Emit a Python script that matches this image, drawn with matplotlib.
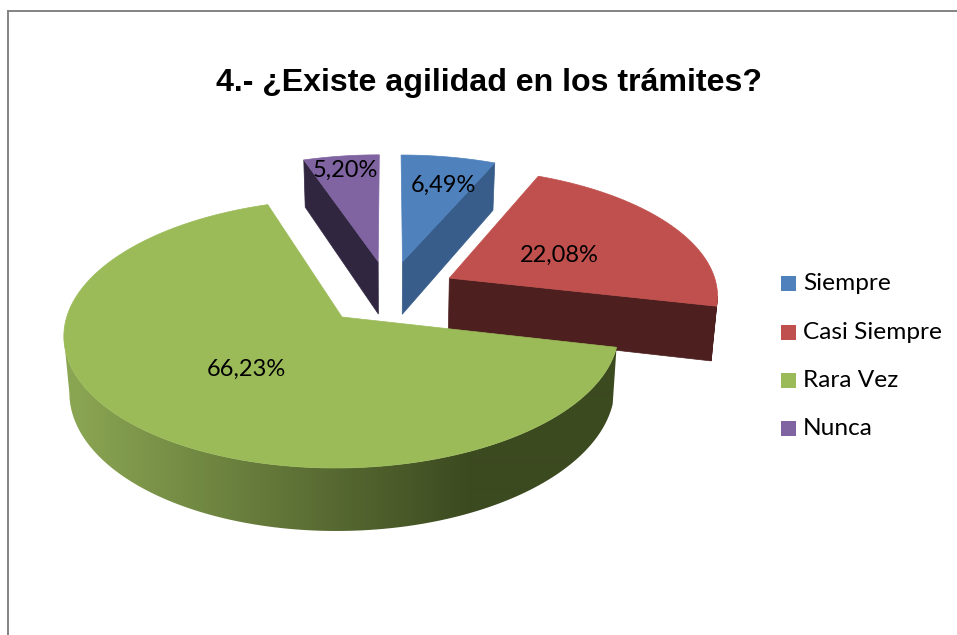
import numpy as np
import matplotlib
matplotlib.use("Agg")
import matplotlib.pyplot as plt
from matplotlib.colors import LinearSegmentedColormap
from matplotlib.patches import Polygon, Rectangle

# Chart data
title = "4.- ¿Existe agilidad en los trámites?"
categories = ["Siempre", "Casi Siempre", "Rara Vez", "Nunca"]
values = [6.49, 22.08, 66.23, 5.20]

# Colours
top_colors = ["#4f81bd", "#c0504d", "#9bbb59", "#8064a2"]
wall_colors = ["#385d8a", "#4d1f1e", None, "#302640"]
green_light = "#8ba653"
green_dark = "#3c4a20"

# Pie geometry, in pixels of the picture
cx, cy = 389, 292.5
radius_x, radius_y = 269, 126.5
persp = -0.12
explode = 0.255
depth = 54
bottom_shrink = 0.983

label_pos = [(443, 185), (559, 255), (246, 369), (345, 170)]

fig = plt.figure(figsize=(9.57, 6.35), dpi=100)
ax = fig.add_axes([0, 0, 1, 1])
ax.axis("off")


def project(px, py, low=False):
    w = 1 + persp * py
    x = radius_x * px / w
    y = radius_y * py / w
    if low:
        x = x * bottom_shrink
        y = y + depth / w
    return cx + x, cy + y


# Slice angles, clockwise from the top
edges = np.cumsum([0] + values) / sum(values) * 2 * np.pi
slices = []
for i in range(len(values)):
    mid = (edges[i] + edges[i + 1]) / 2
    ox = explode * np.sin(mid)
    oy = -explode * np.cos(mid)
    slices.append((oy, i, ox))

green_map = LinearSegmentedColormap.from_list("green_rim", [green_light, green_dark])
fade = np.clip((np.arange(957) - 70) / 400, 0, 1).reshape(1, -1)

# Back slices first
z = 2
for oy, i, ox in sorted(slices):
    t1, t2 = edges[i], edges[i + 1]
    theta = np.linspace(t1, t2, 300)
    px = ox + np.sin(theta)
    py = oy - np.cos(theta)
    top_x, top_y = project(px, py)
    low_x, low_y = project(px, py, low=True)
    apex_top = project(ox, oy)
    apex_low = project(ox, oy, low=True)

    # cut faces that look at the viewer
    wall = wall_colors[i] if wall_colors[i] else green_dark
    if np.sin(t1) < -1e-6:
        ax.add_patch(Polygon([apex_top, (top_x[0], top_y[0]), (low_x[0], low_y[0]), apex_low],
                             fc=wall, ec=wall, lw=0.5, zorder=z))
    if np.sin(t2) > 1e-6:
        ax.add_patch(Polygon([apex_top, (top_x[-1], top_y[-1]), (low_x[-1], low_y[-1]), apex_low],
                             fc=wall, ec=wall, lw=0.5, zorder=z))

    # outer rim runs between the left and right silhouette points
    idx = np.arange(len(theta))
    first = np.argmax(top_x)
    last = np.argmin(top_x) if t2 > np.pi else len(theta) - 1
    front = (np.cos(theta) <= 0.2) & (idx >= first) & (idx <= last)
    if front.any():
        rim = list(zip(top_x[front], top_y[front])) + list(zip(low_x[front][::-1], low_y[front][::-1]))
        if wall_colors[i]:
            ax.add_patch(Polygon(rim, fc=wall, ec=wall, lw=0.5, zorder=z))
        else:
            # the green one fades from left to right
            rim_patch = Polygon(rim, fc="none", ec="none", transform=ax.transData)
            ax.add_patch(rim_patch)
            img = ax.imshow(fade, cmap=green_map, vmin=0, vmax=1, extent=(0, 957, 635, 0),
                            aspect="auto", interpolation="bilinear", zorder=z)
            img.set_clip_path(rim_patch)

    # top face
    pts = [apex_top] + list(zip(top_x, top_y))
    ax.add_patch(Polygon(pts, fc=top_colors[i], ec=top_colors[i], lw=0.5, zorder=z + 1))
    z += 2

# Percent labels
for i, v in enumerate(values):
    ax.text(label_pos[i][0], label_pos[i][1], f"{v:.2f}".replace(".", ",") + "%",
            family="Lato", fontsize=17, color="black", ha="center", va="center", zorder=20)

# Legend
legend_y = [283.5, 332, 380, 428]
for i, name in enumerate(categories):
    ax.add_patch(Rectangle((781, legend_y[i] - 7.5), 15, 15, fc=top_colors[i], ec="none", zorder=20))
    ax.text(803, legend_y[i] + 0.5, name, family="Lato", fontsize=17.6, color="black",
            ha="left", va="center", zorder=20)

# Title
ax.text(489, 82.5, title, family="Liberation Sans", weight="bold", fontsize=23.1,
        color="black", ha="center", va="center", zorder=20)

# Chart area border, only top and left fall inside the picture
ax.plot([8.3, 957], [11, 11], color="#868686", lw=1.44, solid_capstyle="butt", zorder=1)
ax.plot([8.3, 8.3], [10, 635], color="#868686", lw=1.44, solid_capstyle="butt", zorder=1)

ax.set_xlim(0, 957)
ax.set_ylim(635, 0)

fig.savefig("out.png", dpi=100)
